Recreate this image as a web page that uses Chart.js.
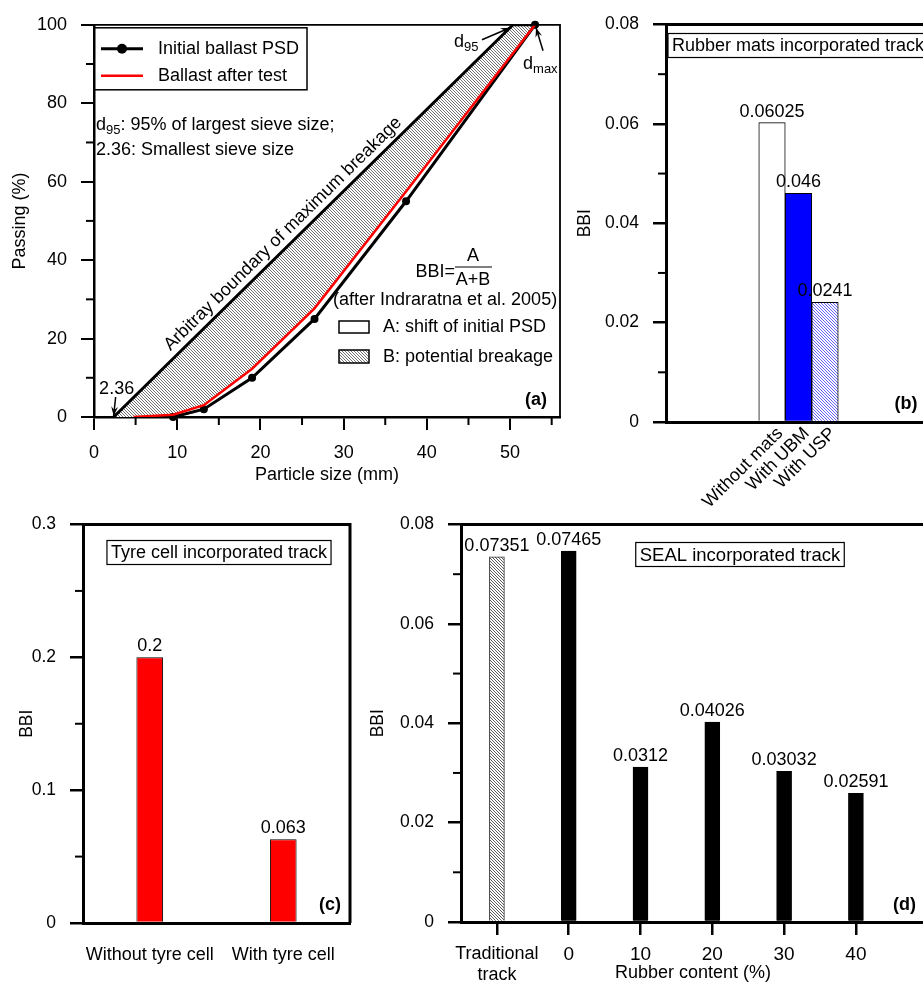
<!DOCTYPE html>
<html>
<head>
<meta charset="utf-8">
<script src="https://cdn.jsdelivr.net/npm/chart.js@4/dist/chart.umd.min.js"></script>
<style>
  html, body { margin: 0; padding: 0; background: #fff; overflow: hidden; width: 923px; height: 982px; }
  .panel { position: absolute; }
</style>
</head>
<body>
<div class="panel" style="left:0;top:0"><canvas id="psdChart" width="575" height="490"></canvas></div>
<div class="panel" style="left:575px;top:0"><canvas id="matChart" width="365" height="520"></canvas></div>
<div class="panel" style="left:0;top:500px"><canvas id="tyreChart" width="380" height="482"></canvas></div>
<div class="panel" style="left:360px;top:500px"><canvas id="sealChart" width="600" height="482"></canvas></div>
<script>
// (a) particle size distribution
const sieveSizes = [9.5, 13.2, 19, 26.5, 37.5, 53];
const initialPassing = [0, 2, 10, 25, 55, 100];
const afterSizes = [4.75, 9.5, 13.2, 19, 26.5, 37.5, 53];
const afterPassing = [0, 0.6, 3, 12.3, 27.7, 57.5, 100];
const boundarySizes = [2.36, 50.35, 53];
const boundaryPassing = [0, 100, 100];

// (b) rubber mats
const matLabels = ['Without mats', 'With UBM', 'With USP'];
const matBBI = [0.06025, 0.046, 0.0241];

// (c) tyre cell
const tyreLabels = ['Without tyre cell', 'With tyre cell'];
const tyreBBI = [0.2, 0.063];

// (d) SEAL
const sealLabels = [['Traditional', 'track'], '0', '10', '20', '30', '40'];
const sealBBI = [0.07351, 0.07465, 0.0312, 0.04026, 0.03032, 0.02591];

const FONT = '"Liberation Sans", Arial, Helvetica, sans-serif';
Chart.defaults.font.family = FONT;
Chart.defaults.color = '#000';

function hatch(line, bg, size, width) {
    const c = document.createElement('canvas');
    c.width = c.height = size;
    const g = c.getContext('2d');
    g.fillStyle = bg;
    g.fillRect(0, 0, size, size);
    g.strokeStyle = line;
    g.lineWidth = width;
    g.beginPath();
    g.moveTo(-1, -1); g.lineTo(size + 1, size + 1);
    g.moveTo(-1, size - 1); g.lineTo(1, size + 1);
    g.moveTo(size - 1, -1); g.lineTo(size + 1, 1);
    g.stroke();
    return g.createPattern(c, 'repeat');
}

const hatchGray = hatch('#444', '#fff', 3, 0.75);
const hatchBlue = hatch('#3a3aff', '#fff', 3, 0.8);
const hatchTrack = hatch('#333', '#fff', 3, 0.8);

function txt(ctx, s, x, y, opt) {
    opt = opt || {};
    ctx.font = (opt.bold ? 'bold ' : '') + (opt.size || 18) + 'px ' + FONT;
    ctx.textAlign = opt.align || 'left';
    ctx.textBaseline = opt.base || 'middle';
    ctx.fillStyle = '#000';
    ctx.fillText(s, x, y);
    return ctx.measureText(s).width;
}

// text with a subscript, e.g. d95
function subTxt(ctx, base, sub, x, y) {
    const w = txt(ctx, base, x, y);
    const w2 = txt(ctx, sub, x + w, y + 6, { size: 13 });
    return w + w2;
}

function arrow(ctx, x1, y1, x2, y2) {
    const ang = Math.atan2(y2 - y1, x2 - x1);
    ctx.lineWidth = 1.5;
    ctx.beginPath();
    ctx.moveTo(x1, y1);
    ctx.lineTo(x2, y2);
    ctx.stroke();
    ctx.beginPath();
    ctx.moveTo(x2, y2);
    ctx.lineTo(x2 - 10 * Math.cos(ang - 0.35), y2 - 10 * Math.sin(ang - 0.35));
    ctx.lineTo(x2 - 6 * Math.cos(ang), y2 - 6 * Math.sin(ang));
    ctx.lineTo(x2 - 10 * Math.cos(ang + 0.35), y2 - 10 * Math.sin(ang + 0.35));
    ctx.closePath();
    ctx.fill();
}

function boxLabel(ctx, s, cx, cy, size) {
    ctx.font = size + 'px ' + FONT;
    const w = ctx.measureText(s).width + 8;
    ctx.fillStyle = '#fff';
    ctx.fillRect(cx - w / 2, cy - 12, w, 24);
    ctx.strokeStyle = '#000';
    ctx.lineWidth = 1.2;
    ctx.strokeRect(cx - w / 2, cy - 12, w, 24);
    txt(ctx, s, cx, cy + 1, { align: 'center', size: size });
}

// frame, minor ticks, value labels and notes
function makeDecor(cfg) {
    return {
        id: 'decor',
        afterDatasetsDraw(chart) {
            const ctx = chart.ctx, a = chart.chartArea;
            const xs = chart.scales.x, ys = chart.scales.y;
            ctx.save();
            ctx.strokeStyle = '#000';
            ctx.fillStyle = '#000';
            ctx.lineWidth = cfg.frameWidth;
            ctx.beginPath();
            ctx.moveTo(a.left, a.top);
            ctx.lineTo(a.right, a.top);
            ctx.lineTo(a.right, a.bottom);
            ctx.stroke();

            ctx.lineWidth = 2;
            (cfg.minorY || []).forEach(v => {
                const p = ys.getPixelForValue(v);
                ctx.beginPath();
                ctx.moveTo(a.left - 8, p);
                ctx.lineTo(a.left, p);
                ctx.stroke();
            });
            (cfg.minorX || []).forEach(v => {
                const p = xs.getPixelForValue(v);
                ctx.beginPath();
                ctx.moveTo(p, a.bottom);
                ctx.lineTo(p, a.bottom + 8);
                ctx.stroke();
            });

            if (cfg.values) {
                chart.getDatasetMeta(0).data.forEach((el, i) => {
                    txt(ctx, String(cfg.values[i]), el.x, el.y - 2, { align: 'center', base: 'bottom' });
                });
            }
            if (cfg.notes) cfg.notes(chart, ctx, a, xs, ys);
            ctx.restore();
        }
    };
}

function xy(xsArr, ysArr) {
    return xsArr.map((x, i) => ({ x: x, y: ysArr[i] }));
}

const initialData = xy(sieveSizes, initialPassing);
const afterData = xy(afterSizes, afterPassing);
const boundaryData = xy(boundarySizes, boundaryPassing);
const breakageRegion = boundaryData.concat(afterData.slice().reverse());

function psdNotes(chart, ctx, a, xs, ys) {
    const L = a.left, T = a.top;
    // legend
    ctx.lineWidth = 1.5;
    ctx.strokeStyle = '#000';
    ctx.strokeRect(L, T + 3, 213, 62);
    ctx.lineWidth = 3;
    ctx.beginPath(); ctx.moveTo(L + 7, T + 24); ctx.lineTo(L + 49, T + 24); ctx.stroke();
    ctx.beginPath(); ctx.arc(L + 28, T + 24, 5, 0, Math.PI * 2); ctx.fill();
    ctx.strokeStyle = '#ff0000';
    ctx.lineWidth = 2.5;
    ctx.beginPath(); ctx.moveTo(L + 7, T + 51); ctx.lineTo(L + 49, T + 51); ctx.stroke();
    ctx.strokeStyle = '#000';
    txt(ctx, 'Initial ballast PSD', L + 64, T + 24);
    txt(ctx, 'Ballast after test', L + 64, T + 51);

    const w = subTxt(ctx, 'd', '95', L + 2, T + 100);
    txt(ctx, ': 95% of largest sieve size;', L + 2 + w, T + 100);
    txt(ctx, '2.36: Smallest sieve size', L + 2, T + 125);

    // BBI = A / (A+B)
    txt(ctx, 'BBI=', 455, 272, { align: 'right' });
    txt(ctx, 'A', 473, 256, { align: 'center' });
    ctx.lineWidth = 1.2;
    ctx.beginPath(); ctx.moveTo(455, 267); ctx.lineTo(492, 267); ctx.stroke();
    txt(ctx, 'A+B', 473, 280, { align: 'center' });
    txt(ctx, '(after Indraratna et al. 2005)', 333, 300);
    ctx.lineWidth = 1.5;
    ctx.strokeRect(339, 321, 30, 12);
    txt(ctx, 'A: shift of initial PSD', 383, 327);
    ctx.fillStyle = hatchGray;
    ctx.fillRect(339, 350, 30, 13);
    ctx.strokeRect(339, 350, 30, 13);
    ctx.fillStyle = '#000';
    txt(ctx, 'B: potential breakage', 383, 357);
    txt(ctx, '(a)', a.right - 24, a.bottom - 17, { align: 'center', bold: true });

    // arrows to 2.36, d95 and dmax
    const p0x = xs.getPixelForValue(2.36), p0y = ys.getPixelForValue(0);
    arrow(ctx, p0x + 2, p0y - 20, p0x, p0y - 1);
    txt(ctx, '2.36', p0x + 3, p0y - 28, { align: 'center' });
    const p1x = xs.getPixelForValue(50.35), p1y = ys.getPixelForValue(100);
    arrow(ctx, p1x - 31, p1y + 15, p1x - 3, p1y + 3);
    subTxt(ctx, 'd', '95', p1x - 59, p1y + 17);
    const p2x = xs.getPixelForValue(53), p2y = ys.getPixelForValue(100);
    arrow(ctx, p2x + 8, p2y + 26, p2x + 1, p2y + 3);
    subTxt(ctx, 'd', 'max', p2x - 12, p2y + 39);

    // label along the boundary line
    const ang = Math.atan2(p1y - p0y, p1x - p0x);
    const t = 0.445;
    ctx.save();
    ctx.translate(p0x + t * (p1x - p0x), p0y + t * (p1y - p0y));
    ctx.rotate(ang);
    txt(ctx, 'Arbitray boundary of maximum breakage', 0, -3, { align: 'center', base: 'bottom' });
    ctx.restore();
}

new Chart(document.getElementById('psdChart'), {
    type: 'line',
    data: {
        datasets: [
            { data: breakageRegion, fill: 'shape', backgroundColor: hatchGray, borderWidth: 0, pointRadius: 0, order: 4 },
            { data: boundaryData, borderColor: '#000', borderWidth: 3, pointRadius: 0, fill: false, order: 3 },
            { data: initialData, borderColor: '#000', borderWidth: 3, pointRadius: 4, pointBackgroundColor: '#000', pointBorderWidth: 0, fill: false, order: 2, clip: false },
            { data: afterData, borderColor: '#ff0000', borderWidth: 2.5, pointRadius: 0, fill: false, order: 1 }
        ]
    },
    options: {
        responsive: false,
        animation: false,
        events: [],
        layout: { padding: { top: 17, right: 15, left: 0, bottom: 0 } },
        plugins: { legend: { display: false }, tooltip: { enabled: false } },
        scales: {
            x: {
                type: 'linear', min: 0, max: 56,
                afterFit: s => { s.height = 73; },
                ticks: { stepSize: 10, includeBounds: false, padding: 12, font: { size: 18 } },
                grid: { drawOnChartArea: false, tickLength: 13, color: '#000', lineWidth: 2 },
                border: { color: '#000', width: 2.5 },
                title: { display: true, text: 'Particle size (mm)', font: { size: 18 }, padding: { top: 0, bottom: 4 } }
            },
            y: {
                min: 0, max: 100,
                afterFit: s => { s.width = 94; },
                ticks: { stepSize: 20, padding: 14, font: { size: 18 } },
                grid: { drawOnChartArea: false, tickLength: 13, color: '#000', lineWidth: 2 },
                border: { color: '#000', width: 2.5 },
                title: { display: true, text: 'Passing (%)', font: { size: 18 }, padding: { top: 9, bottom: 0 } }
            }
        }
    },
    plugins: [makeDecor({
        frameWidth: 1.8,
        minorY: [10, 30, 50, 70, 90],
        minorX: [5, 15, 25, 35, 45, 55],
        notes: psdNotes
    })]
});

function bbiAxis(max, step, width, titlePad) {
    return {
        min: 0, max: max,
        afterFit: s => { s.width = width; },
        ticks: { stepSize: step, padding: 14, font: { size: 17.5 } },
        grid: { drawOnChartArea: false, tickLength: 13, color: '#000', lineWidth: 2.5 },
        border: { color: '#000', width: 3 },
        title: { display: true, text: 'BBI', font: { size: 17.5 }, padding: { top: titlePad, bottom: 0 } }
    };
}

const baseOptions = {
    responsive: false,
    animation: false,
    events: [],
    plugins: { legend: { display: false }, tooltip: { enabled: false } }
};

new Chart(document.getElementById('matChart'), {
    type: 'bar',
    data: {
        datasets: [{
            data: xy(matLabels.map((_, i) => i), matBBI),
            backgroundColor: ['#ffffff', '#0000ff', hatchBlue],
            borderColor: '#000',
            borderWidth: 1,
            barThickness: 26.5
        }]
    },
    options: Object.assign({}, baseOptions, {
        layout: { padding: { top: 23, right: 5, left: 0, bottom: 0 } },
        scales: {
            x: {
                type: 'linear', min: -4, max: 6.15, offset: false,
                afterFit: s => { s.height = 98; },
                afterBuildTicks: s => { s.ticks = matLabels.map((_, i) => ({ value: i })); },
                ticks: { callback: v => matLabels[v], autoSkip: false, minRotation: 45, maxRotation: 45, padding: -7, labelOffset: 8, font: { size: 18 } },
                grid: { display: false, offset: false },
                border: { color: '#000', width: 3 }
            },
            y: bbiAxis(0.08, 0.02, 91, 0)
        }
    }),
    plugins: [makeDecor({
        frameWidth: 3,
        minorY: [0.01, 0.03, 0.05, 0.07],
        values: matBBI,
        notes: (chart, ctx, a) => {
            ctx.font = '18px ' + FONT;
            const s = 'Rubber mats incorporated track';
            const w = ctx.measureText(s).width + 8;
            ctx.fillStyle = '#fff';
            ctx.fillRect(a.left + 2, a.top + 9, w, 24);
            ctx.lineWidth = 1.2;
            ctx.strokeRect(a.left + 2, a.top + 9, w, 24);
            txt(ctx, s, a.left + 6, a.top + 22);
            txt(ctx, '(b)', a.left + 240, a.bottom - 18, { align: 'center', bold: true });
        }
    })]
});

new Chart(document.getElementById('tyreChart'), {
    type: 'bar',
    data: {
        labels: tyreLabels,
        datasets: [{
            data: tyreBBI,
            backgroundColor: '#ff0000',
            borderColor: '#000',
            borderWidth: 1,
            barPercentage: 0.2,
            categoryPercentage: 1
        }]
    },
    options: Object.assign({}, baseOptions, {
        layout: { padding: { top: 23, right: 30, left: 0, bottom: 0 } },
        scales: {
            x: {
                afterFit: s => { s.height = 59; },
                ticks: { padding: 13, autoSkip: false, minRotation: 0, maxRotation: 0, font: { size: 18 } },
                grid: { display: false },
                border: { color: '#000', width: 3 }
            },
            y: bbiAxis(0.3, 0.1, 83, 17)
        }
    }),
    plugins: [makeDecor({
        frameWidth: 3,
        minorY: [0.05, 0.15, 0.25],
        values: tyreBBI,
        notes: (chart, ctx, a) => {
            boxLabel(ctx, 'Tyre cell incorporated track', a.left + 136, a.top + 28, 18);
            txt(ctx, '(c)', a.right - 20, a.bottom - 18, { align: 'center', bold: true });
        }
    })]
});

new Chart(document.getElementById('sealChart'), {
    type: 'bar',
    data: {
        datasets: [{
            data: xy(sealLabels.map((_, i) => i), sealBBI),
            backgroundColor: [hatchTrack, '#000', '#000', '#000', '#000', '#000'],
            borderColor: ['#333', '#000', '#000', '#000', '#000', '#000'],
            borderWidth: 1,
            barThickness: 15
        }]
    },
    options: Object.assign({}, baseOptions, {
        layout: { padding: { top: 23, right: 5, left: 0, bottom: 0 } },
        scales: {
            x: {
                type: 'linear', min: -0.5, max: 6.38, offset: false,
                afterFit: s => { s.height = 60; },
                afterBuildTicks: s => { s.ticks = sealLabels.map((_, i) => ({ value: i })); },
                ticks: {
                    callback: v => sealLabels[v], autoSkip: false, maxRotation: 0, padding: 8,
                    font: c => ({ size: c.index === 0 ? 18 : 19 })
                },
                grid: { drawOnChartArea: false, offset: false, tickLength: 13, color: '#000', lineWidth: 2.5 },
                border: { color: '#000', width: 3 }
            },
            y: bbiAxis(0.08, 0.02, 101, 8)
        }
    }),
    plugins: [makeDecor({
        frameWidth: 3,
        minorY: [0.01, 0.03, 0.05, 0.07],
        values: sealBBI,
        notes: (chart, ctx, a) => {
            boxLabel(ctx, 'SEAL incorporated track', a.left + 279, a.top + 30, 18.5);
            txt(ctx, 'Rubber content (%)', a.left + 232, a.bottom + 51, { align: 'center', size: 18 });
            txt(ctx, '(d)', a.left + 432, a.bottom - 17, { bold: true });
        }
    })]
});
</script>
</body>
</html>
